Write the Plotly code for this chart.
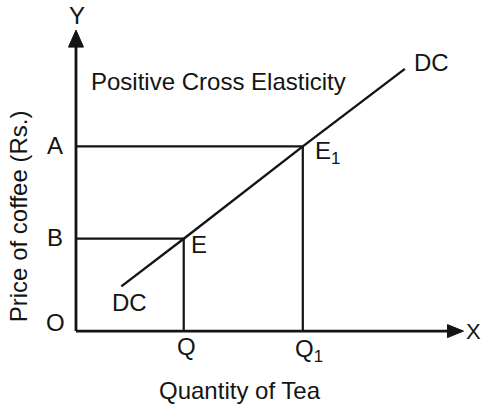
import plotly.graph_objects as go

# Points of the cross-demand curve DC (quantity of tea vs price of coffee)
dc_x = [1.2, 2.85, 6.0, 8.7]
dc_y = [1.5, 3.1, 6.2, 8.8]

# Equilibrium points
eq_names = ["E", "E<sub>1</sub>"]
eq_qty = [2.85, 6.0]
eq_price = [3.1, 6.2]
qty_labels = ["Q", "Q<sub>1</sub>"]
price_labels = ["B", "A"]

axis_len_x = 10.25
axis_len_y = 10.1

ink = "#141414"
font_family = "Liberation Sans, Arial, sans-serif"
fs = 24

# pixel size of one data unit (for sizing the arrowheads)
px_x = 37.8
px_y = 29.8

fig = go.Figure()

# Axes
fig.add_trace(go.Scatter(x=[0, 0], y=[0, axis_len_y - 0.4], mode="lines",
                         line=dict(color=ink, width=2.8), hoverinfo="skip"))
fig.add_trace(go.Scatter(x=[0, axis_len_x - 0.3], y=[0, 0], mode="lines",
                         line=dict(color=ink, width=2.8), hoverinfo="skip"))

# Arrowheads as filled triangles
hl_y, hw_y = 17 / px_y, 7.5 / px_x
fig.add_trace(go.Scatter(
    x=[0, -hw_y, hw_y, 0],
    y=[axis_len_y, axis_len_y - hl_y, axis_len_y - hl_y, axis_len_y],
    mode="lines", fill="toself", fillcolor=ink,
    line=dict(color=ink, width=1), hoverinfo="skip"))
hl_x, hw_x = 16 / px_x, 6.5 / px_y
fig.add_trace(go.Scatter(
    x=[axis_len_x, axis_len_x - hl_x, axis_len_x - hl_x, axis_len_x],
    y=[0, hw_x, -hw_x, 0],
    mode="lines", fill="toself", fillcolor=ink,
    line=dict(color=ink, width=1), hoverinfo="skip"))

# Demand curve DC
fig.add_trace(go.Scatter(x=dc_x, y=dc_y, mode="lines",
                         line=dict(color=ink, width=2.4), hoverinfo="skip"))

# Guide lines from each equilibrium point to the axes
for q, p in zip(eq_qty, eq_price):
    fig.add_trace(go.Scatter(x=[0, q, q], y=[p, p, 0], mode="lines",
                             line=dict(color=ink, width=2.2), hoverinfo="skip"))

annotations = []

def label(text, x, y, dx=0, dy=0, size=fs, **kw):
    annotations.append(dict(text=text, x=x, y=y, xref="x", yref="y",
                            xshift=dx, yshift=dy, showarrow=False,
                            font=dict(family=font_family, size=size, color=ink), **kw))

label("Y", 0, axis_len_y, dx=1, dy=15)
label("X", axis_len_x, 0, dx=10, dy=0, size=22)
label("O", 0, 0, dx=-20, dy=9)

for name, q, p in zip(eq_names, eq_qty, eq_price):
    label(name, q, p, dx=15 if name == "E" else 25, dy=-6)
for txt, q in zip(qty_labels, eq_qty):
    label(txt, q, 0, dx=3 if txt == "Q" else 6, dy=-15 if txt == "Q" else -19)
for txt, p in zip(price_labels, eq_price):
    label(txt, 0, p, dx=-21, dy=1)

label("DC", dc_x[0], dc_y[0], dx=8, dy=-16)
label("DC", dc_x[-1], dc_y[-1], dx=27, dy=6)

label("Positive Cross Elasticity", 3.78, 8.39)
label("Quantity of Tea", 4.34, -1.98)
label("Price of coffee (Rs.)", -1.53, 3.86, textangle=-90)

fig.update_layout(
    width=482, height=408,
    margin=dict(l=0, r=0, t=0, b=0),
    paper_bgcolor="white", plot_bgcolor="white",
    showlegend=False,
    annotations=annotations,
    xaxis=dict(range=[-2.01, 10.74], visible=False, fixedrange=True),
    yaxis=dict(range=[-2.58, 11.11], visible=False, fixedrange=True),
)

fig.write_html("out.html")
